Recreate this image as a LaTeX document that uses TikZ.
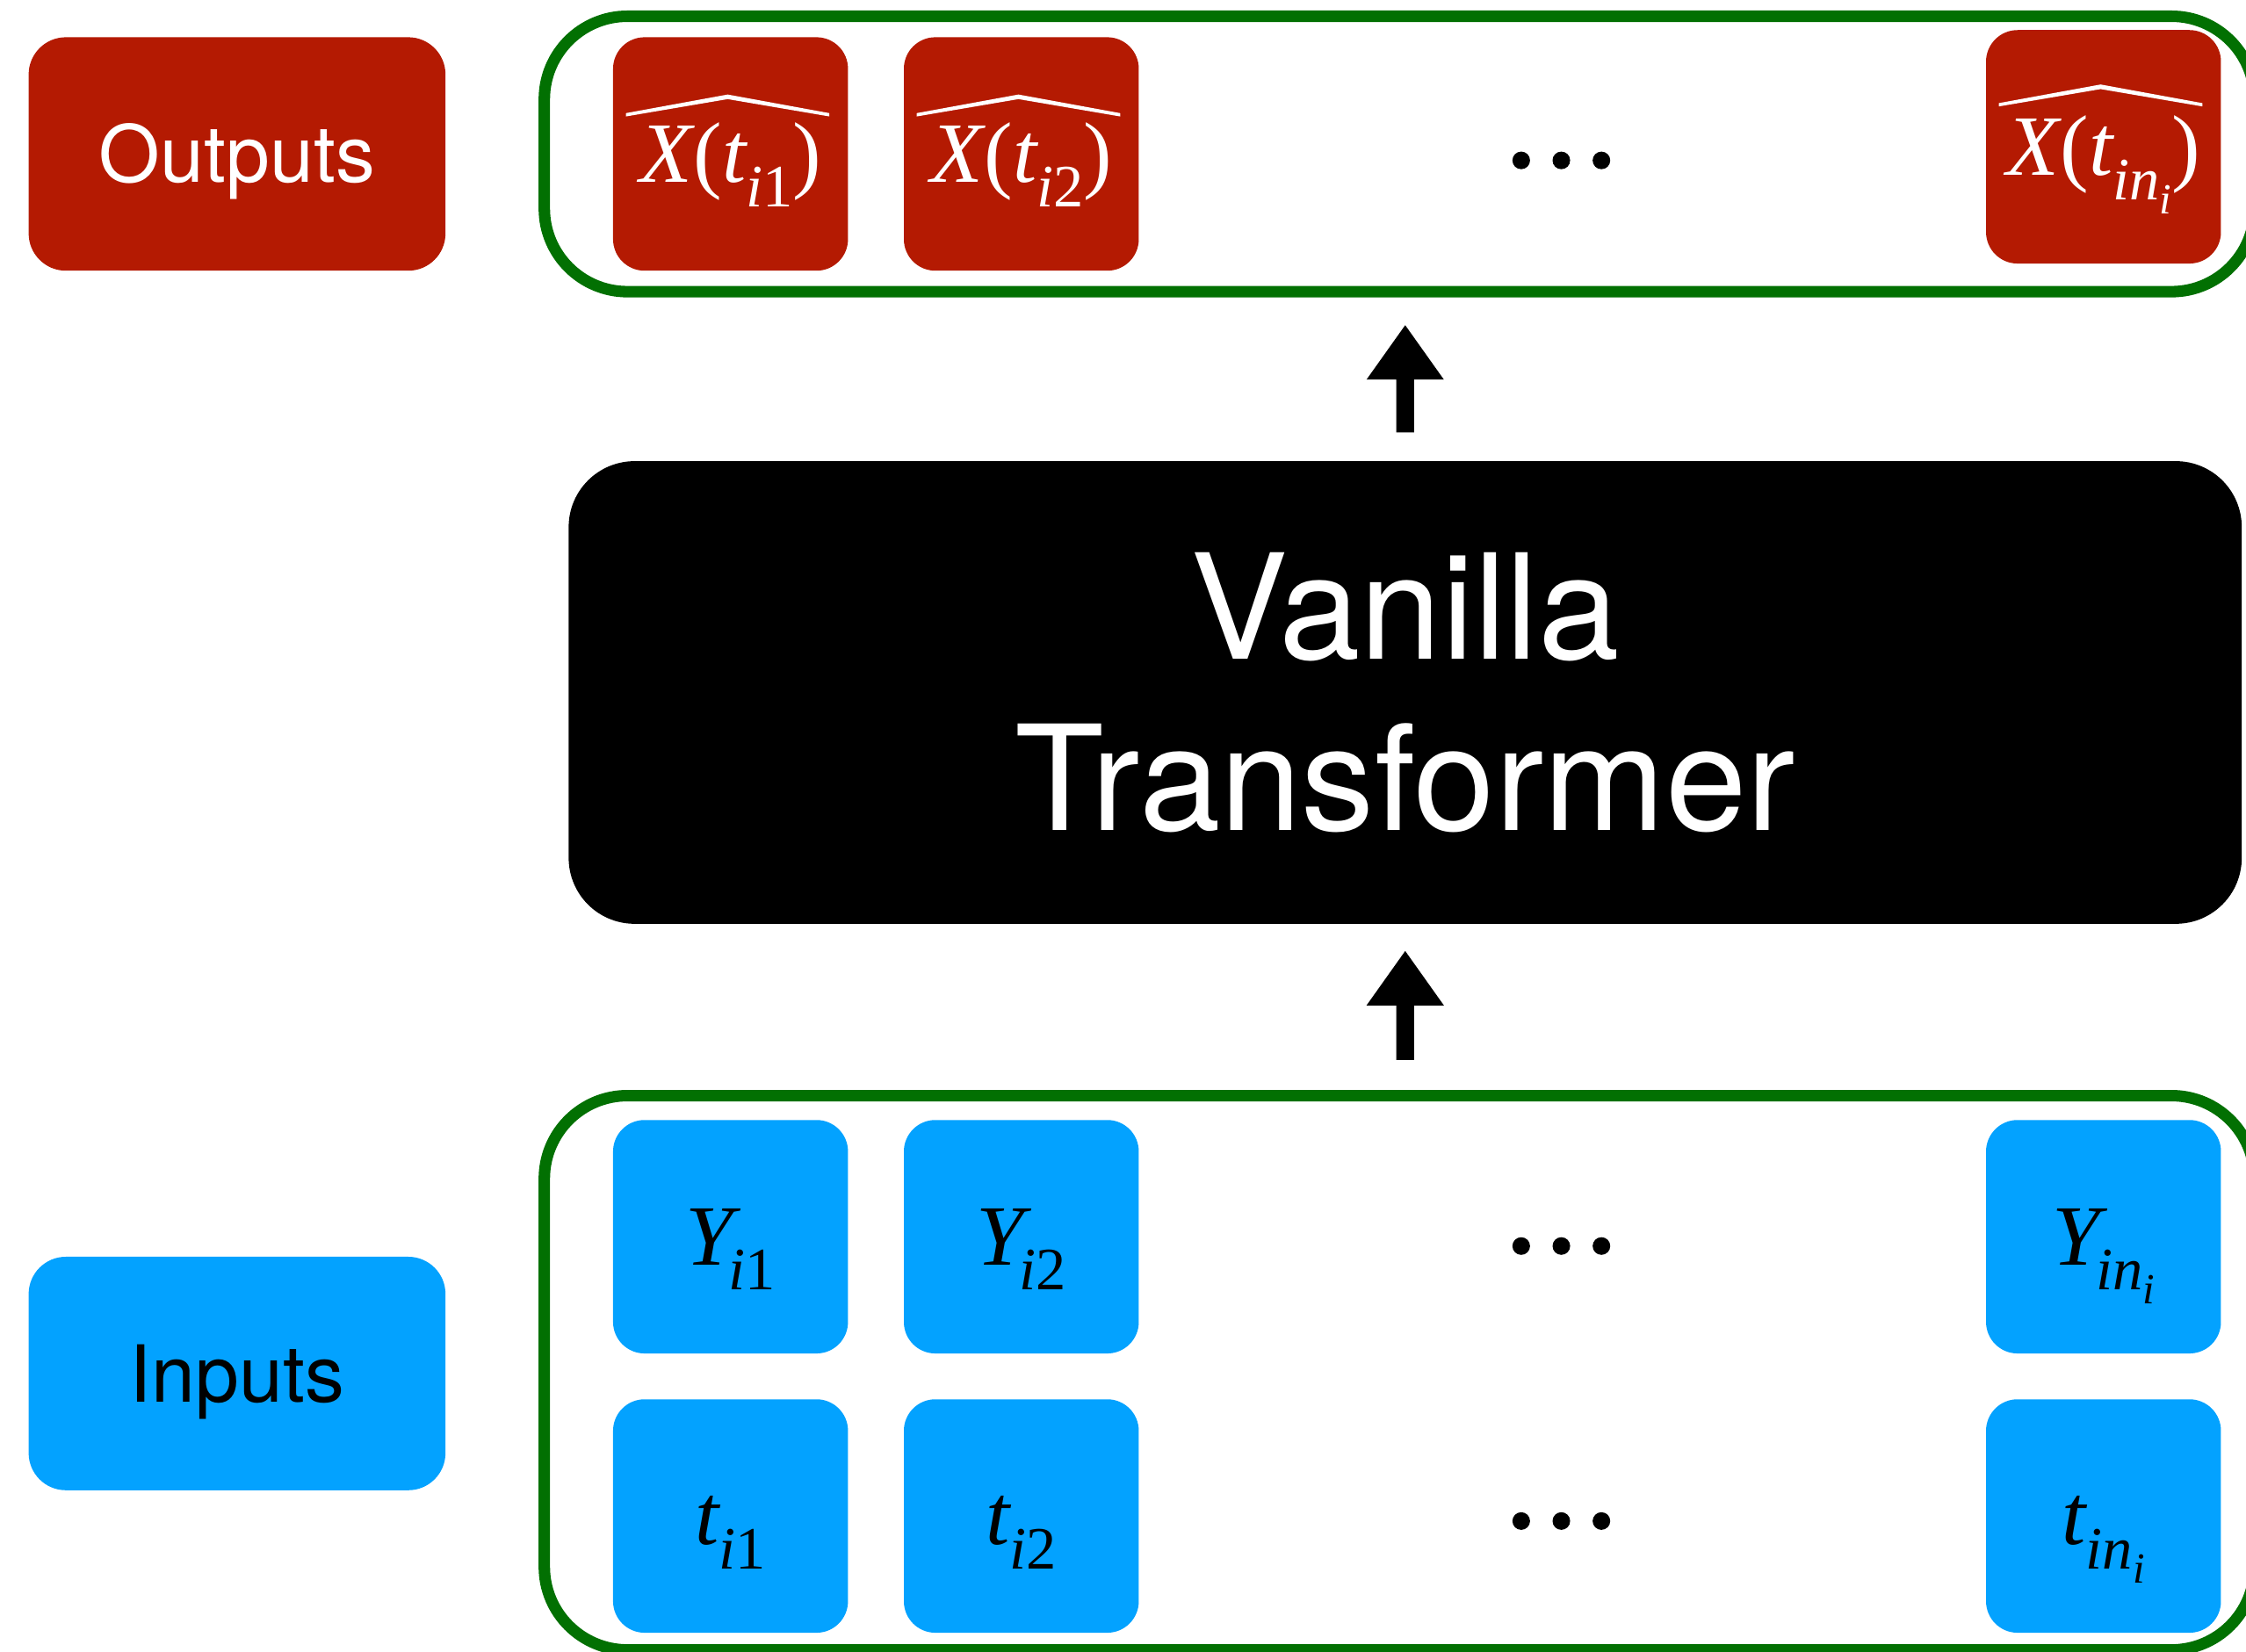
\documentclass[tikz,border=0pt]{standalone}
\usepackage{fontspec}
\setsansfont{TeX Gyre Heros}
\newfontfamily\tmsf{Liberation Serif}
\usetikzlibrary{calc}

\definecolor{outred}{RGB}{180,26,2}
\definecolor{inblue}{RGB}{3,162,255}
\definecolor{grpgreen}{RGB}{2,112,2}

% italic variable, upright symbol, subscript and sub-subscript
\newcommand{\mv}[1]{{\tmsf\itshape #1}}
\newcommand{\uv}[1]{{\tmsf #1}}
\newcommand{\sbs}[1]{\raisebox{-17pt}{\fontsize{42pt}{42pt}\selectfont #1}}
\newcommand{\ssbs}[1]{\raisebox{-10pt}{\fontsize{30pt}{30pt}\selectfont #1}}

\begin{document}
\begin{tikzpicture}[x=1pt,y=-1pt,
  every node/.style={inner sep=0pt, outer sep=0pt},
  boxtile/.style={minimum width=164pt, minimum height=163pt, rounded corners=22pt},
  outtile/.style={boxtile, fill=outred, text=white},
  intile/.style={boxtile, fill=inblue, text=black},
  mathtext/.style={font=\fontsize{60pt}{72pt}\selectfont, text height=40pt, text depth=0pt},
  tagbox/.style={minimum width=291pt, minimum height=163pt, rounded corners=26pt,
    font=\sffamily\fontsize{55pt}{66pt}\selectfont, text height=39.5pt, text depth=0pt},
  grpframe/.style={draw=grpgreen, line width=8pt, rounded corners=58pt, minimum width=1194pt},
  ellipsisdot/.style={circle, fill=black, minimum size=12.3pt},
  hatmark/.pic={\fill[white] (-73,-28.5) -- (-2,-41.5) -- (69,-28.5) -- (69,-26.2)
      -- (-2,-38.3) -- (-73,-26.2) -- cycle;},
]
\fill[white] (0,0) rectangle (1568,1153);
\useasboundingbox (0,0) rectangle (1568,1153);

% side labels
\node[tagbox, fill=outred, text=white] (outlbl) at (165.5,107.5) {Outputs};
\node[tagbox, fill=inblue, text=black] (inlbl) at (165.5,959) {Inputs};

% group frames
\node[grpframe, minimum height=192.3pt] (outgrp) at (977,107.5) {};
\node[grpframe, minimum height=387pt] (ingrp) at (977,958.5) {};

% predicted outputs
\node[outtile, mathtext] (ox1) at (510,107.5) {\mv{X}\kern1pt\uv{(}\mv{t}\sbs{\mv{i}\uv{1}}\uv{)}};
\node[outtile, mathtext] (ox2) at (713,107.5) {\mv{X}\kern1pt\uv{(}\mv{t}\sbs{\mv{i}\uv{2}}\uv{)}};
\node[outtile, mathtext] (ox3) at (1468.5,102.5) {\mv{X}\kern1pt\uv{(}\mv{t}\sbs{\mv{in}\ssbs{\mv{i}}}\uv{)}};
\pic (hat1) at (ox1) {hatmark};
\pic (hat2) at (ox2) {hatmark};
\pic (hat3) at ($(ox3)+(0,-2)$) {hatmark};

% observed values
\node[intile, mathtext] (y1) at (510,863.5) {\mv{Y}\kern-3pt\sbs{\mv{i}\uv{1}}};
\node[intile, mathtext] (y2) at (713,863.5) {\mv{Y}\kern-3pt\sbs{\mv{i}\uv{2}}};
\node[intile, mathtext] (y3) at (1468.5,863.5) {\mv{Y}\kern-3pt\sbs{\mv{in}\ssbs{\mv{i}}}};

% observation times
\node[intile, mathtext] (t1) at (510,1058.5) {\mv{t}\sbs{\mv{i}\uv{1}}};
\node[intile, mathtext] (t2) at (713,1058.5) {\mv{t}\sbs{\mv{i}\uv{2}}};
\node[intile, mathtext] (t3) at (1468.5,1058.5) {\mv{t}\sbs{\mv{in}\ssbs{\mv{i}}}};

% ellipses
\foreach \row/\yy in {o/112, y/870, t/1062}{
  \node[ellipsisdot] (\row d1) at (1062,\yy) {};
  \node[ellipsisdot] (\row d2) at (1090,\yy) {};
  \node[ellipsisdot] (\row d3) at (1118,\yy) {};
}

% transformer block
\node[fill=black, text=white, rounded corners=46pt, minimum width=1168pt, minimum height=323pt,
  align=center, font=\sffamily\fontsize{102pt}{120pt}\selectfont] (tf) at (981,483.5)
  {Vanilla\\Transformer};

% block arrows
\path (tf.north) ++(0,-20) coordinate (a1tail);
\path (a1tail |- outgrp.south) ++(0,23.4) coordinate (a1tip);
\path (ingrp.north -| tf.south) ++(0,-25) coordinate (a2tail);
\path (tf.south) ++(0,19) coordinate (a2tip);

\fill[black] ($(a1tail)+(-6.15,0)$) |- ($(a1tip)+(-27,38)$) -- (a1tip)
  -- ($(a1tip)+(27,38)$) -| ($(a1tail)+(6.15,0)$) -- cycle;
\fill[black] ($(a2tail)+(-6.15,0)$) |- ($(a2tip)+(-27,38)$) -- (a2tip)
  -- ($(a2tip)+(27,38)$) -| ($(a2tail)+(6.15,0)$) -- cycle;
\end{tikzpicture}
\end{document}
